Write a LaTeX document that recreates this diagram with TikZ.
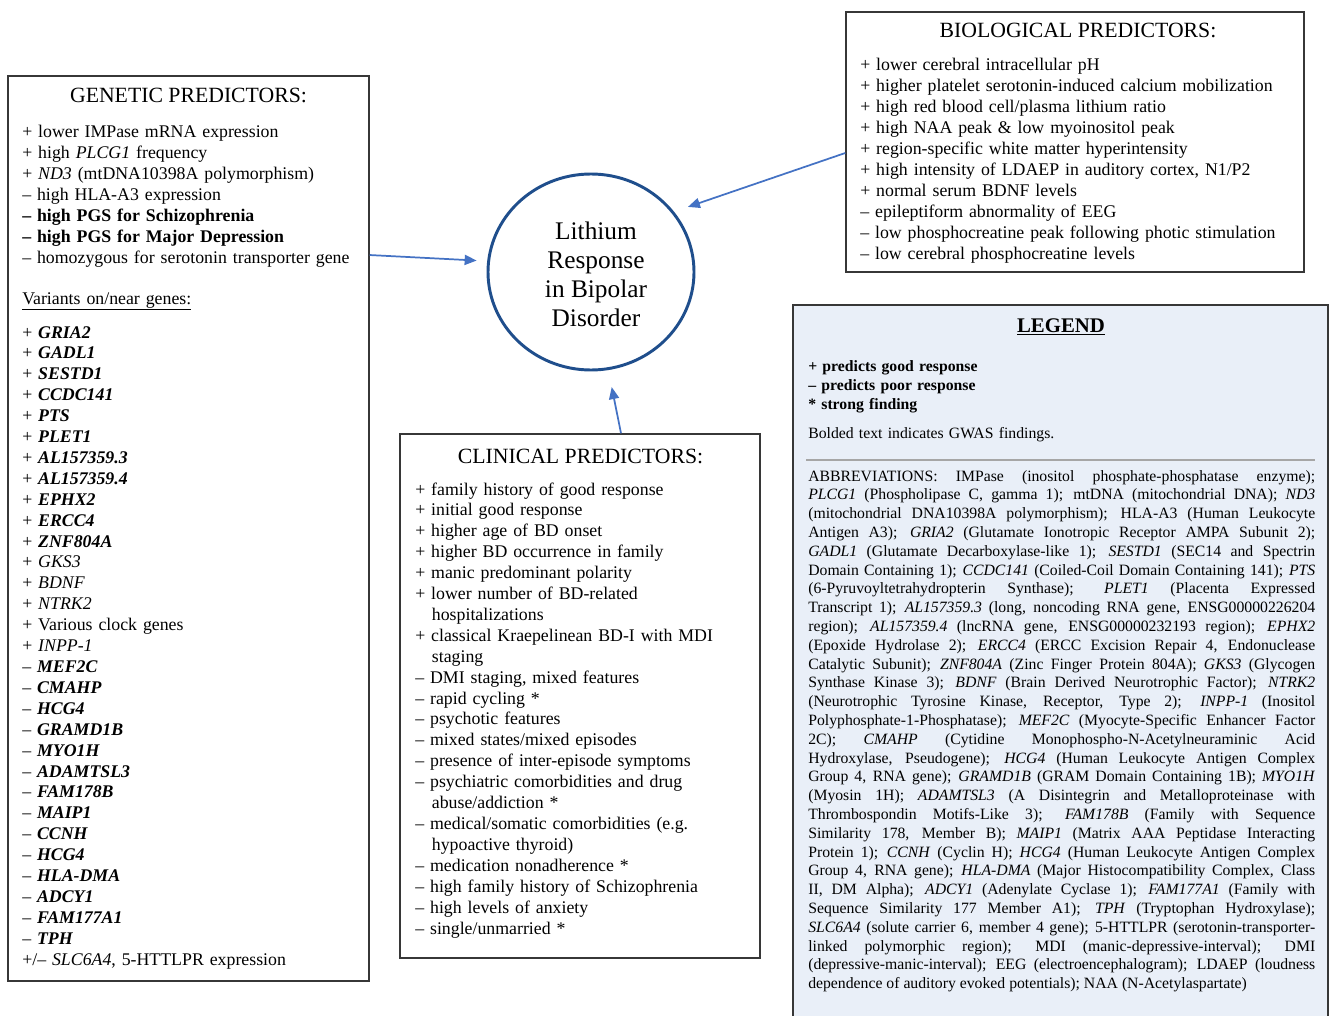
\documentclass[tikz,border=0pt]{standalone}
\usepackage{fontspec}
\setmainfont{Liberation Serif}
\usepackage{tikz}
\usetikzlibrary{arrows.meta,shapes.geometric}

\definecolor{ringblue}{RGB}{31,78,140}
\definecolor{arrowblue}{RGB}{68,114,196}
\definecolor{legendfill}{RGB}{233,239,248}
\definecolor{boxgray}{RGB}{55,55,55}

\newcommand{\gwas}[1]{\textbf{\textit{#1}}}
\newcommand{\abbrevfont}{\fontsize{11.8}{14.1}\selectfont
  \tolerance=10000\relax \hyphenpenalty=10000\relax \exhyphenpenalty=10000\relax}

\begin{document}
\begin{tikzpicture}[x=0.75pt, y=-0.75pt,
    box/.style={draw=boxgray, line width=1.1pt, inner sep=0pt},
    title/.style={font=\fontsize{16.3}{19}\selectfont, anchor=base, inner sep=0pt},
    list/.style={font=\fontsize{13.35}{15.68}\selectfont, text width=345pt, align=left, anchor=base west, inner sep=0pt},
    small/.style={font=\fontsize{11.8}{14.25}\selectfont, text width=380.25pt, align=left, anchor=base west, inner sep=0pt},
    feed/.style={draw=arrowblue, line width=1.3pt, -{Triangle[length=9pt,width=7.5pt]}}]

    \useasboundingbox (0,0) rectangle (1330,1016);
    \clip (0,0) rectangle (1330,1016);
    \fill[white] (0,0) rectangle (1330,1016);

    % the four boxes
    \node[box, minimum width=270.75pt, minimum height=678.75pt] (gen) at (188.5,528.5) {};
    \node[box, minimum width=343.5pt, minimum height=195pt] (bio) at (1075,142) {};
    \node[box, minimum width=270pt, minimum height=393pt] (clin) at (580,696) {};
    \node[box, fill=legendfill, minimum width=401.25pt, minimum height=536.25pt] (leg) at (1060.5,662.5) {};

    % the outcome in the middle
    \node[ellipse, draw=ringblue, line width=2.2pt, minimum width=154.5pt, minimum height=147pt,
          inner sep=0pt] (lith) at (591,272) {};
    \node[align=center, font=\fontsize{19}{21.75}\selectfont, inner sep=0pt] (lithtext) at (596,274)
          {Lithium\\Response\\in Bipolar\\Disorder};

    % genetic
    \node[title] (gentitle) at (188.5,103) {GENETIC PREDICTORS:};
    \node[list] (gentop) at (22,138) {+ lower IMPase mRNA expression\\
        + high \textit{PLCG1} frequency\\
        + \textit{ND3} (mtDNA10398A polymorphism)\\
        -- high HLA-A3 expression\\
        \textbf{-- high PGS for Schizophrenia}\\
        \textbf{-- high PGS for Major Depression}\\
        -- homozygous for serotonin transporter gene};
    \node[list] (genvar) at (22,304) {\underline{Variants on/near genes:}};
    \node[list] (genlist) at (22,338) {+ \gwas{GRIA2}\\ + \gwas{GADL1}\\ + \gwas{SESTD1}\\
        + \gwas{CCDC141}\\ + \gwas{PTS}\\ + \gwas{PLET1}\\ + \gwas{AL157359.3}\\
        + \gwas{AL157359.4}\\ + \gwas{EPHX2}\\ + \gwas{ERCC4}\\ + \gwas{ZNF804A}\\
        + \textit{GKS3}\\ + \textit{BDNF}\\ + \textit{NTRK2}\\ + Various clock genes\\
        + \textit{INPP-1}\\ -- \gwas{MEF2C}\\ -- \gwas{CMAHP}\\ -- \gwas{HCG4}\\
        -- \gwas{GRAMD1B}\\ -- \gwas{MYO1H}\\ -- \gwas{ADAMTSL3}\\ -- \gwas{FAM178B}\\
        -- \gwas{MAIP1}\\ -- \gwas{CCNH}\\ -- \gwas{HCG4}\\ -- \gwas{HLA-DMA}\\
        -- \gwas{ADCY1}\\ -- \gwas{FAM177A1}\\ -- \gwas{TPH}\\
        +/-- \textit{SLC6A4}, 5-HTTLPR expression};

    % biological
    \node[title] (biotitle) at (1078,38) {BIOLOGICAL PREDICTORS:};
    \node[list] (biolist) at (860,71) {+ lower cerebral intracellular pH\\
        + higher platelet serotonin-induced calcium mobilization\\
        + high red blood cell/plasma lithium ratio\\
        + high NAA peak \& low myoinositol peak\\
        + region-specific white matter hyperintensity\\
        + high intensity of LDAEP in auditory cortex, N1/P2\\
        + normal serum BDNF levels\\
        -- epileptiform abnormality of EEG\\
        -- low phosphocreatine peak following photic stimulation\\
        -- low cerebral phosphocreatine levels};

    % clinical
    \node[title] (clintitle) at (580.5,463) {CLINICAL PREDICTORS:};
    \node[list] (clinlist) at (415,495) {+ family history of good response\\
        + initial good response\\
        + higher age of BD onset\\
        + higher BD occurrence in family\\
        + manic predominant polarity\\
        + lower number of BD-related\\
        \hspace*{12.5pt}hospitalizations\\
        + classical Kraepelinean BD-I with MDI\\
        \hspace*{12.5pt}staging\\
        -- DMI staging, mixed features\\
        -- rapid cycling *\\
        -- psychotic features\\
        -- mixed states/mixed episodes\\
        -- presence of inter-episode symptoms\\
        -- psychiatric comorbidities and drug\\
        \hspace*{12.5pt}abuse/addiction *\\
        -- medical/somatic comorbidities (e.g.\\
        \hspace*{12.5pt}hypoactive thyroid)\\
        -- medication nonadherence *\\
        -- high family history of Schizophrenia\\
        -- high levels of anxiety\\
        -- single/unmarried *};

    % legend
    \node[font=\bfseries\fontsize{15.6}{18}\selectfont, anchor=base, inner sep=0pt] (legtitle) at (1061,332) {\underline{LEGEND}};
    \node[small, font=\bfseries\fontsize{11.8}{14.25}\selectfont] (legkey) at (808,371) {+ predicts good response\\
        -- predicts poor response\\{}* strong finding};
    \node[small] (legnote) at (808,438) {Bolded text indicates GWAS findings.};
    \draw[gray!70, line width=1.5pt] (806,460) -- (1315,460);
    \node[small, font=\abbrevfont, align=justify] (abbrev) at (808,481) {ABBREVIATIONS: IMPase (inositol phosphate-phosphatase enzyme);\linebreak
        \textit{PLCG1} (Phospholipase C, gamma 1); mtDNA (mitochondrial DNA); \textit{ND3}\linebreak
        (mitochondrial DNA10398A polymorphism); HLA-A3 (Human Leukocyte\linebreak
        Antigen A3); \textit{GRIA2} (Glutamate Ionotropic Receptor AMPA Subunit 2);\linebreak
        \textit{GADL1} (Glutamate Decarboxylase-like 1); \textit{SESTD1} (SEC14 and Spectrin\linebreak
        Domain Containing 1); \textit{CCDC141} (Coiled-Coil Domain Containing 141); \textit{PTS}\linebreak
        (6-Pyruvoyltetrahydropterin Synthase); \textit{PLET1} (Placenta Expressed\linebreak
        Transcript 1); \textit{AL157359.3} (long, noncoding RNA gene, ENSG00000226204\linebreak
        region); \textit{AL157359.4} (lncRNA gene, ENSG00000232193 region); \textit{EPHX2}\linebreak
        (Epoxide Hydrolase 2); \textit{ERCC4} (ERCC Excision Repair 4, Endonuclease\linebreak
        Catalytic Subunit); \textit{ZNF804A} (Zinc Finger Protein 804A); \textit{GKS3} (Glycogen\linebreak
        Synthase Kinase 3); \textit{BDNF} (Brain Derived Neurotrophic Factor); \textit{NTRK2}\linebreak
        (Neurotrophic Tyrosine Kinase, Receptor, Type 2); \textit{INPP-1} (Inositol\linebreak
        Polyphosphate-1-Phosphatase); \textit{MEF2C} (Myocyte-Specific Enhancer Factor\linebreak
        2C); \textit{CMAHP} (Cytidine Monophospho-N-Acetylneuraminic Acid\linebreak
        Hydroxylase, Pseudogene); \textit{HCG4} (Human Leukocyte Antigen Complex\linebreak
        Group 4, RNA gene); \textit{GRAMD1B} (GRAM Domain Containing 1B); \textit{MYO1H}\linebreak
        (Myosin 1H); \textit{ADAMTSL3} (A Disintegrin and Metalloproteinase with\linebreak
        Thrombospondin Motifs-Like 3); \textit{FAM178B} (Family with Sequence\linebreak
        Similarity 178, Member B); \textit{MAIP1} (Matrix AAA Peptidase Interacting\linebreak
        Protein 1); \textit{CCNH} (Cyclin H); \textit{HCG4} (Human Leukocyte Antigen Complex\linebreak
        Group 4, RNA gene); \textit{HLA-DMA} (Major Histocompatibility Complex, Class\linebreak
        II, DM Alpha); \textit{ADCY1} (Adenylate Cyclase 1); \textit{FAM177A1} (Family with\linebreak
        Sequence Similarity 177 Member A1); \textit{TPH} (Tryptophan Hydroxylase);\linebreak
        \textit{SLC6A4} (solute carrier 6, member 4 gene); 5-HTTLPR (serotonin-transporter-\linebreak
        linked polymorphic region); MDI (manic-depressive-interval); DMI\linebreak
        (depressive-manic-interval); EEG (electroencephalogram); LDAEP (loudness\linebreak
        dependence of auditory evoked potentials); NAA (N-Acetylaspartate)};

    % arrows into the circle
    \draw[feed, shorten >=7.9pt] ([yshift=205.1pt]gen.east) -- (lith.174);
    \draw[feed, shorten >=11pt] ([yshift=-8.25pt]bio.west) -- (lith.36);
    \draw[feed, shorten >=13pt] ([xshift=30.75pt]clin.north) -- (lith.-80);

\end{tikzpicture}
\end{document}
